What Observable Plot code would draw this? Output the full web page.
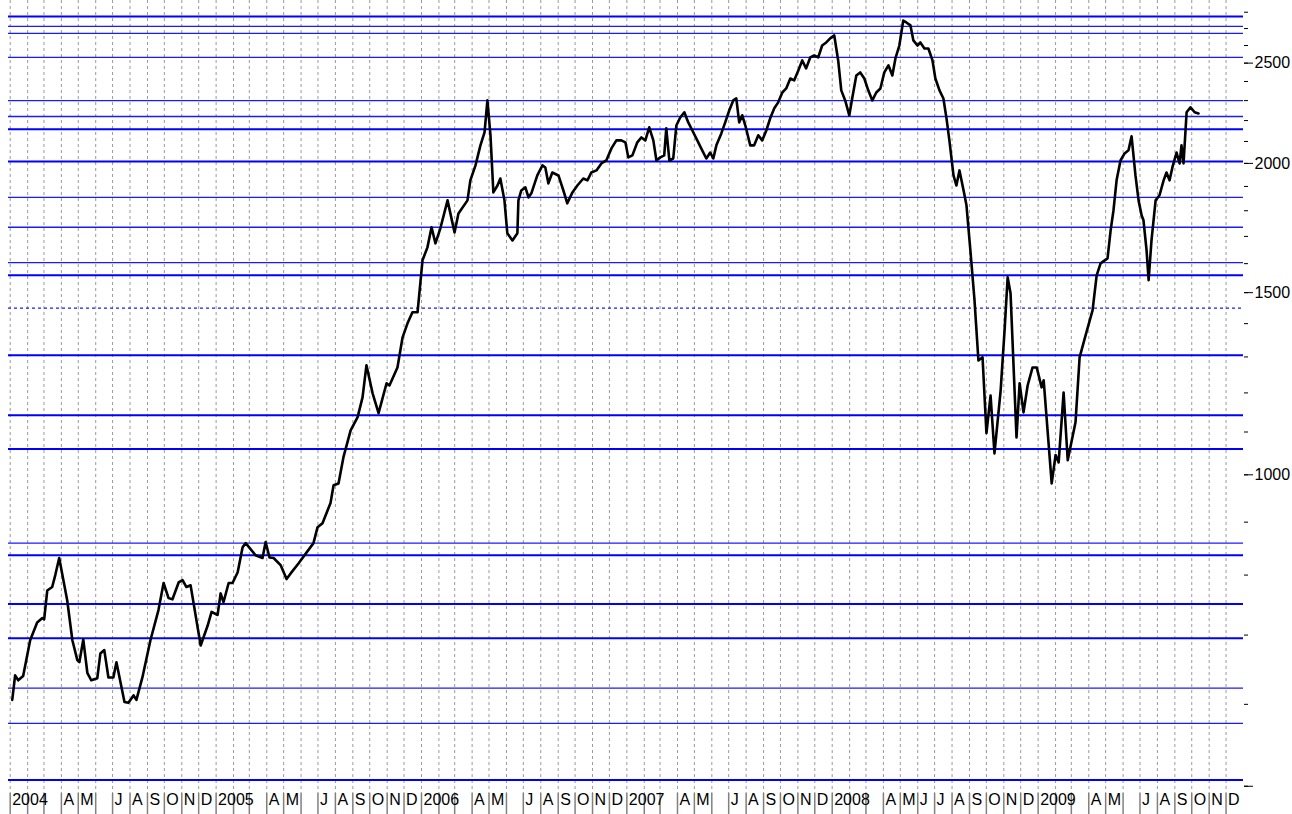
<!DOCTYPE html>
<html><head><meta charset="utf-8">
<script src="https://cdn.jsdelivr.net/npm/d3@7"></script>
<script src="https://cdn.jsdelivr.net/npm/@observablehq/plot@0.6"></script>
<style>html,body{margin:0;padding:0;background:#fff;} svg{display:block}</style>
</head><body><div id="chart"></div>
<script>
// Weekly close readings: time as decimal year, value
const years = [
2004.010,2004.024,2004.039,2004.063,2004.097,2004.131,2004.156,2004.165,2004.180,2004.204,2004.219,2004.238,2004.277,2004.302,2004.326,2004.336,2004.355,2004.375,2004.394,2004.423,2004.438,2004.457,2004.477,2004.501,2004.516,2004.555,2004.574,2004.599,2004.613,2004.642,2004.681,2004.720,2004.745,2004.769,2004.788,2004.818,2004.837,2004.856,2004.876,2004.925,2004.959,2004.978,
2005.007,2005.022,2005.036,2005.061,2005.080,2005.105,2005.129,2005.144,2005.192,2005.226,2005.241,2005.260,2005.280,2005.314,2005.343,2005.363,2005.401,2005.474,2005.494,2005.518,2005.557,2005.572,2005.596,2005.620,2005.655,2005.689,2005.713,2005.732,2005.762,2005.791,2005.830,2005.844,2005.883,2005.908,2005.932,2005.956,2005.981,
2006.005,2006.029,2006.049,2006.068,2006.092,2006.127,2006.161,2006.180,2006.224,2006.238,2006.263,2006.287,2006.307,2006.321,2006.336,2006.350,2006.370,2006.384,2006.404,2006.418,2006.443,2006.467,2006.472,2006.486,2006.506,2006.521,2006.535,2006.564,2006.589,2006.603,2006.618,2006.637,2006.667,2006.691,2006.710,2006.735,2006.759,2006.788,2006.808,2006.827,2006.852,2006.876,2006.900,2006.925,2006.949,2006.973,2006.993,
2007.007,2007.027,2007.051,2007.071,2007.090,2007.109,2007.129,2007.144,2007.163,2007.182,2007.192,2007.207,2007.226,2007.241,2007.260,2007.280,2007.299,2007.319,2007.343,2007.367,2007.387,2007.406,2007.421,2007.436,2007.460,2007.479,2007.499,2007.518,2007.533,2007.547,2007.562,2007.577,2007.601,2007.620,2007.640,2007.659,2007.679,2007.698,2007.718,2007.737,2007.757,2007.776,2007.796,2007.815,2007.835,2007.854,2007.873,2007.893,2007.912,2007.932,2007.951,2007.971,2007.990,
2008.010,2008.029,2008.044,2008.063,2008.083,2008.097,2008.117,2008.136,2008.156,2008.175,2008.195,2008.214,2008.234,2008.253,2008.273,2008.292,2008.307,2008.326,2008.345,2008.360,2008.380,2008.394,2008.414,2008.428,2008.448,2008.467,2008.487,2008.501,2008.521,2008.540,2008.555,2008.569,2008.589,2008.603,2008.618,2008.638,2008.652,2008.671,2008.691,2008.710,2008.730,2008.749,2008.769,2008.788,2008.818,2008.837,2008.852,2008.866,2008.895,2008.910,2008.929,2008.949,2008.973,2008.993,
2009.017,2009.027,2009.066,2009.085,2009.100,2009.124,2009.144,2009.182,2009.202,2009.231,2009.265,2009.285,2009.304,2009.338,2009.353,2009.367,2009.382,2009.401,2009.421,2009.440,2009.455,2009.474,2009.489,2009.504,2009.513,2009.528,2009.538,2009.552,2009.572,2009.591,2009.611,2009.625,2009.640,2009.655,2009.674,2009.689,2009.698,2009.708,2009.723,2009.742,2009.762,2009.781
];
const closes = [
606,640,633,639,692,720,727,725,773,779,800,831,756,692,662,659,693,643,633,636,672,677,637,637,659,603,602,612,606,637,692,740,786,760,758,787,791,779,782,684,715,737,
732,768,753,786,786,805,851,859,836,831,861,832,831,818,793,803,821,859,890,898,939,977,981,1040,1104,1137,1188,1276,1199,1147,1226,1220,1270,1358,1401,1436,1436,
1612,1659,1735,1674,1731,1842,1715,1789,1842,1926,1991,2082,2143,2301,2129,1875,1904,1934,1842,1712,1685,1712,1842,1883,1896,1854,1871,1947,1991,1982,1913,1960,1947,1883,1830,1875,1904,1934,1926,1960,1969,2000,2013,2068,2105,2105,2096,
2027,2036,2096,2119,2105,2167,2105,2013,2027,2036,2162,2013,2022,2176,2215,2241,2191,2152,2105,2059,2022,2049,2022,2082,2138,2191,2251,2301,2311,2191,2226,2176,2082,2082,2129,2105,2152,2211,2261,2291,2342,2363,2416,2406,2460,2515,2471,2532,2543,2532,2600,2618,2642,
2659,2515,2353,2301,2226,2311,2432,2449,2416,2353,2301,2342,2363,2449,2488,2432,2526,2600,2749,2737,2719,2630,2600,2618,2583,2583,2515,2416,2353,2311,2211,2105,1947,1904,1969,1883,1822,1648,1475,1290,1299,1097,1193,1049,1207,1379,1552,1498,1087,1226,1149,1220,1270,1270,
1215,1234,981,1045,1028,1201,1033,1124,1299,1364,1442,1559,1601,1619,1723,1802,1926,2013,2045,2059,2124,1947,1842,1781,1762,1648,1542,1685,1842,1863,1926,1960,1926,1987,2049,2000,2082,2000,2241,2266,2241,2235
];

// Horizontal support / resistance levels
const thickLevels = [2774, 2158, 2009, 1559, 1305, 1142, 1059, 836, 750, 695, 507];
const thinLevels = [2713, 2671, 2532, 2300, 2220, 1854, 1735, 1604, 859, 622, 575];
const dashedLevels = [1449];

// Axis ticks
const minorTicks = [500,600,700,800,900,1000,1100,1200,1300,1400,1500,1600,1700,1800,1900,2000,2100,2200,2300,2400,2500,2600,2700,2800];
const majorTicks = [500, 1000, 1500, 2000, 2500];
const majorLabels = ["", "1000", "1500", "2000", "2500"];
const firstYear = 2004;
const monthLabels = [
"2004","","","A","M","","J","A","S","O","N","D",
"2005","","","A","M","","J","A","S","O","N","D",
"2006","","","A","M","","J","A","S","O","N","D",
"2007","","","A","M","","J","A","S","O","N","D",
"2008","","","A","M","J","J","A","S","O","N","D",
"2009","","","A","M","","J","A","S","O","N","D"
];

function toDate(t) {
  const y = Math.floor(t);
  const s = Date.UTC(y, 0, 1), e = Date.UTC(y + 1, 0, 1);
  return new Date(s + (t - y) * (e - s));
}
const data = years.map((t, i) => ({date: toDate(t), value: closes[i]}));
const months = monthLabels.map((label, i) => ({
  date: new Date(Date.UTC(firstYear + Math.floor(i / 12), i % 12, 1)), label
}));

const chart = Plot.plot({
  width: 1292, height: 814,
  marginTop: 0, marginBottom: 21, marginLeft: 8, marginRight: 49,
  style: {background: "#fff", fontFamily: "'Liberation Sans', Arial, sans-serif", fontSize: "16px", color: "#000", overflow: "visible"},
  x: {type: "utc", domain: [new Date(Date.UTC(2003, 11, 29)), new Date(Date.UTC(2010, 0, 1))], axis: null},
  y: {type: "log", domain: [492, 2874], axis: null},
  marks: [
    Plot.ruleX(months, {x: "date", stroke: "#9a9a9a", strokeDasharray: "3,3", strokeWidth: 1}),
    Plot.ruleY(thinLevels, {stroke: "#1a1aff", strokeWidth: 1.3}),
    Plot.ruleY(thickLevels, {stroke: "#0000ff", strokeWidth: 2}),
    Plot.ruleY(dashedLevels, {stroke: "#1a1aff", strokeWidth: 1.2, strokeDasharray: "3,3"}),
    Plot.axisX(months.map(d => d.date), {anchor: "bottom", tickSize: 21, tickFormat: () => "", stroke: "#808080", strokeWidth: 1.5, label: null}),
    Plot.text(months, {x: "date", text: "label", frameAnchor: "bottom", dy: 11, dx: 2, textAnchor: "start", fill: "#000", fontSize: 16}),
    Plot.axisY(minorTicks, {anchor: "right", tickSize: 4, tickFormat: () => "", stroke: "#000", label: null}),
    Plot.axisY(majorTicks, {anchor: "right", tickSize: 9, tickPadding: 2, tickFormat: d => majorLabels[majorTicks.indexOf(d)], fill: "#000", stroke: "#000", fontSize: 16, label: null}),
    Plot.line(data, {x: "date", y: "value", stroke: "#000", strokeWidth: 2.6, strokeLinejoin: "round"})
  ]
});
document.getElementById("chart").appendChild(chart);
</script>
</body></html>
